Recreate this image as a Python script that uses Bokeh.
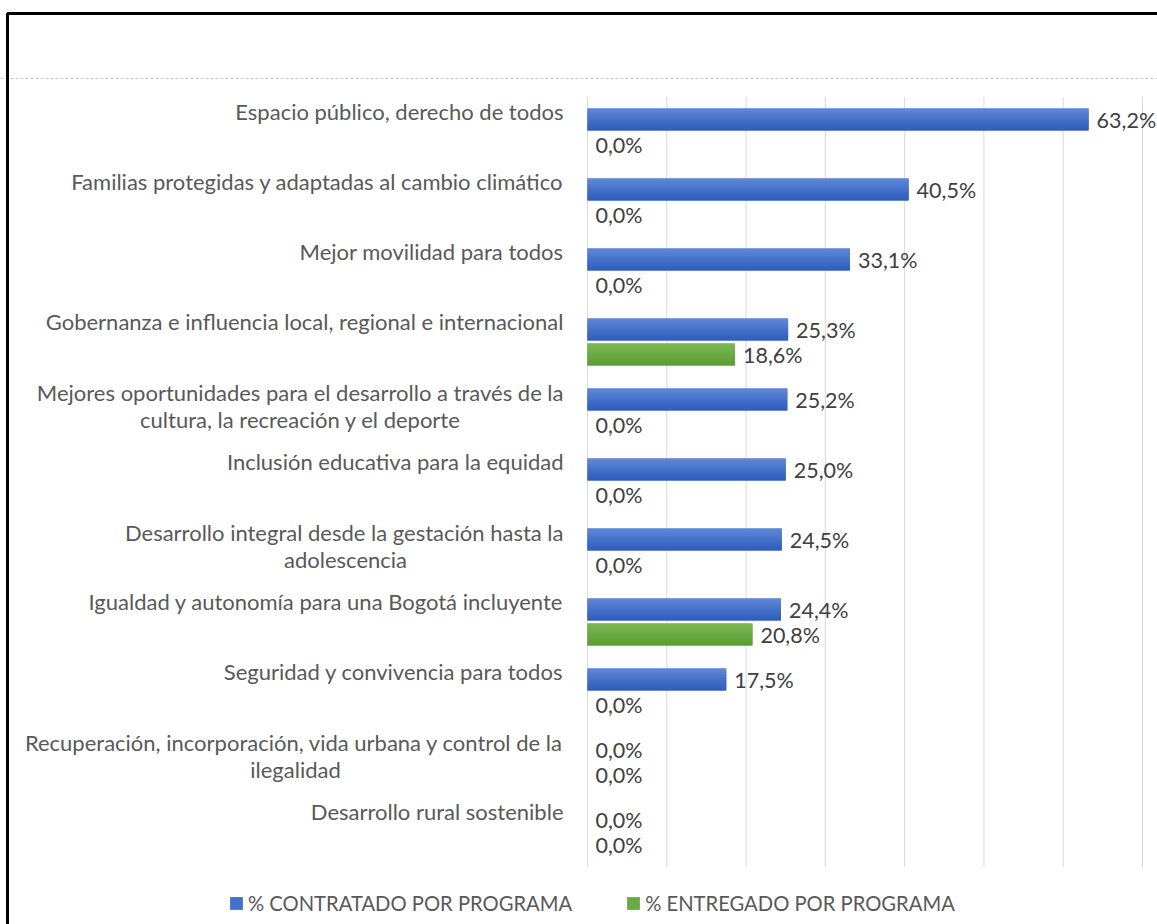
from bokeh.plotting import figure
from bokeh.models import ColumnDataSource, Span, BoxAnnotation, Legend, LegendItem, Range1d
from bokeh.core.properties import value
from bokeh.embed import file_html
from bokeh.resources import INLINE

# ---------------- data ----------------
categories = [
    "Espacio público, derecho de todos",
    "Familias protegidas y adaptadas al cambio climático",
    "Mejor movilidad para todos",
    "Gobernanza e influencia local, regional e internacional",
    "Mejores oportunidades para el desarrollo a través de la cultura, la recreación y el deporte",
    "Inclusión educativa para la equidad",
    "Desarrollo integral desde la gestación hasta la adolescencia",
    "Igualdad y autonomía para una Bogotá incluyente",
    "Seguridad y convivencia para todos",
    "Recuperación, incorporación, vida urbana y control de la ilegalidad",
    "Desarrollo rural sostenible",
]
label_line1 = [
    "Espacio público, derecho de todos",
    "Familias protegidas y adaptadas al cambio climático",
    "Mejor movilidad para todos",
    "Gobernanza e influencia local, regional e internacional",
    "Mejores oportunidades para el desarrollo a través de la",
    "Inclusión educativa para la equidad",
    "Desarrollo integral desde la gestación hasta la",
    "Igualdad y autonomía para una Bogotá incluyente",
    "Seguridad y convivencia para todos",
    "Recuperación, incorporación, vida urbana y control de la",
    "Desarrollo rural sostenible",
]
label_line2 = ["", "", "", "", "cultura, la recreación y el deporte", "", "adolescencia",
               "", "", "ilegalidad", ""]
contratado = [63.2, 40.5, 33.1, 25.3, 25.2, 25.0, 24.5, 24.4, 17.5, 0.0, 0.0]
entregado = [0.0, 0.0, 0.0, 18.6, 0.0, 0.0, 0.0, 20.8, 0.0, 0.0, 0.0]
series_names = ["% CONTRATADO POR PROGRAMA", "% ENTREGADO POR PROGRAMA"]
x_ticks = [0, 10, 20, 30, 40, 50, 60, 70]

# ---------------- layout constants ----------------
W, H = 1157, 924
PX_PER_PCT = 555 / 70.0          # 70% spans 555 px
ZERO_X = 587                     # canvas x of 0 %
ROW_PX = 70.0                    # px per category
FIRST_Y = 131.5                  # canvas y of first category centre
x_start = -ZERO_X / PX_PER_PCT
x_end = (W - ZERO_X) / PX_PER_PCT
y_top = -FIRST_Y / ROW_PX
y_bottom = y_top + H / ROW_PX
BAR_H = 22 / ROW_PX
OFF = 12.5 / ROW_PX
FONT = "Lato"
FS = "22px"
TXT = "#595959"
VAL = "#404040"
BLUE = "#4471C6"
GREEN = "#6BAA43"
BLUE_GRAD = ("#5f87d6", "#2f5ebd")
GREEN_GRAD = ("#7bb853", "#5e9d36")
N_BANDS = 11

# line-2 centres (in % units, for centred second lines)
line2_center = [None, None, None, None, (300 - ZERO_X) / PX_PER_PCT, None, (345 - ZERO_X) / PX_PER_PCT,
                None, None, (295 - ZERO_X) / PX_PER_PCT, None]

idx = list(range(len(categories)))
fmt = lambda v: f"{v:.1f}%".replace(".", ",")


def mix(c1, c2, t):
    a = [int(c1[k:k + 2], 16) for k in (1, 3, 5)]
    b = [int(c2[k:k + 2], 16) for k in (1, 3, 5)]
    return "#" + "".join(f"{round(x + (y - x) * t):02x}" for x, y in zip(a, b))


src_c = ColumnDataSource(dict(y=[i - OFF for i in idx], v=contratado, lab=[fmt(v) for v in contratado]))
src_e = ColumnDataSource(dict(y=[i + OFF for i in idx], v=entregado, lab=[fmt(v) for v in entregado]))

p = figure(width=W, height=H, output_backend="svg", toolbar_location=None,
           x_range=Range1d(x_start, x_end), y_range=Range1d(y_bottom, y_top),
           x_axis_location=None, y_axis_location=None, min_border=0,
           background_fill_color="white", border_fill_color="white")
p.outline_line_color = None
p.grid.visible = False

# grid lines
p.segment(x0=x_ticks, x1=x_ticks, y0=[-0.5] * len(x_ticks), y1=[len(idx) - 0.5] * len(x_ticks),
          line_color="#d9d9d9", line_width=1)

# dashed separator and frame border
p.add_layout(Span(location=y_top + 78 / ROW_PX, dimension="width", line_color="#c8c8c8",
                  line_dash="3 2", line_width=1))
p.add_layout(BoxAnnotation(left=x_start + 7 / PX_PER_PCT, top=y_top + 13 / ROW_PX,
                           right=x_end + 50, bottom=y_bottom + 5,
                           fill_alpha=0, line_color="black", line_alpha=1, line_width=3))

rc = p.hbar(y="y", right="v", left=0, height=BAR_H, source=src_c, fill_color=BLUE, line_color=None)
re_ = p.hbar(y="y", right="v", left=0, height=BAR_H, source=src_e, fill_color=GREEN, line_color=None)

# smooth vertical shading of the bars (top lighter, bottom darker)
band_h = BAR_H / N_BANDS
for src, grad in ((src_c, BLUE_GRAD), (src_e, GREEN_GRAD)):
    ys = src.data["y"]
    vs = src.data["v"]
    for k in range(N_BANDS):
        shift = -BAR_H / 2 + band_h * (k + 0.5)
        h = band_h * (1.6 if 0 < k < N_BANDS - 1 else 1.0)
        p.hbar(y=[y + shift for y in ys], right=vs, left=0, height=h,
               fill_color=mix(grad[0], grad[1], k / (N_BANDS - 1)), line_color=None)

for src in (src_c, src_e):
    p.text(x="v", y="y", text="lab", source=src, x_offset=8, text_baseline="middle",
           text_align="left", text_font=value(FONT), text_font_size="21.5px", text_color=VAL)

# category labels
lab_x = -24 / PX_PER_PCT
one = [i for i in idx if not label_line2[i]]
two = [i for i in idx if label_line2[i]]
p.text(x=[lab_x] * len(one), y=one, text=[label_line1[i] for i in one], y_offset=-21,
       text_align="right", text_baseline="alphabetic", text_font=value(FONT),
       text_font_size=FS, text_color=TXT)
p.text(x=[lab_x] * len(two), y=two, text=[label_line1[i] for i in two], y_offset=-20,
       text_align="right", text_baseline="alphabetic", text_font=value(FONT),
       text_font_size=FS, text_color=TXT)
p.text(x=[line2_center[i] for i in two], y=two, text=[label_line2[i] for i in two], y_offset=7,
       text_align="center", text_baseline="alphabetic", text_font=value(FONT),
       text_font_size=FS, text_color=TXT)

legend = Legend(items=[LegendItem(label=series_names[0], renderers=[rc]),
                       LegendItem(label=series_names[1], renderers=[re_])],
                orientation="horizontal", location=(228, 9), glyph_width=16, glyph_height=16,
                label_standoff=4, spacing=53, padding=0, margin=0,
                border_line_color=None, background_fill_alpha=0,
                label_text_font=FONT, label_text_font_size="20.2px", label_text_color=TXT)
p.add_layout(legend)

open("out.html", "w").write(file_html(p, INLINE))
